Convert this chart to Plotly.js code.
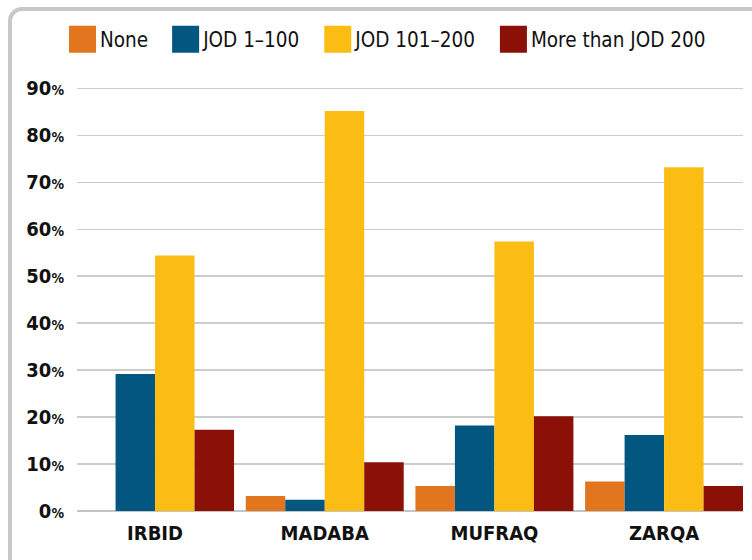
<!DOCTYPE html>
<html>
<head>
<meta charset="utf-8">
<script src="https://cdn.plot.ly/plotly-3.0.1.min.js"></script>
<style>
  html, body { margin: 0; padding: 0; background: #ffffff; overflow: hidden; }
  #frame { position: absolute; left: 8px; top: 7px; width: 900px; height: 700px;
           border: 4px solid #c8c8c8; border-top-left-radius: 14px; box-sizing: border-box; }
  #chart { position: absolute; left: 0; top: 0; width: 752px; height: 560px; }
</style>
</head>
<body>
<div id="frame"></div>
<div id="chart"></div>
<script>
// ---- data ----
const categories = ['IRBID', 'MADABA', 'MUFRAQ', 'ZARQA'];
const seriesNames = ['None', 'JOD 1\u2013100', 'JOD 101\u2013200', 'More than JOD 200'];
const noneValues = [0, 3.2, 5.3, 6.3];
const jod1to100Values = [29.2, 2.4, 18.2, 16.2];
const jod101to200Values = [54.4, 85.2, 57.4, 73.2];
const over200Values = [17.3, 10.4, 20.2, 5.3];
const yTickValues = [0, 10, 20, 30, 40, 50, 60, 70, 80, 90];
const yTickLabels = yTickValues.map(v => v + '<span style="font-size:14px">%</span>');

// ---- styling ----
const colors = ['#E2761F', '#02567F', '#FBBD13', '#8A1008'];
const FONT = 'DejaVu Sans Condensed, DejaVu Sans, sans-serif';
const allSeries = [noneValues, jod1to100Values, jod101to200Values, over200Values];

const traces = allSeries.map((vals, i) => ({
  type: 'bar',
  name: seriesNames[i],
  x: categories,
  y: vals,
  marker: { color: colors[i], line: { width: 0 } },
  hoverinfo: 'none'
}));

const layout = {
  width: 752,
  height: 560,
  margin: { l: 77, r: 9, t: 79, b: 49, pad: 0 },
  paper_bgcolor: 'rgba(0,0,0,0)',
  plot_bgcolor: 'rgba(0,0,0,0)',
  barmode: 'group',
  bargap: 0.069,
  bargroupgap: 0,
  font: { family: FONT, color: '#111111' },
  showlegend: true,
  legend: {
    orientation: 'h',
    xref: 'container', yref: 'container',
    x: 0.0665, xanchor: 'left',
    y: 1 - 39.5 / 560, yanchor: 'middle',
    itemwidth: 40,
    font: { family: FONT, size: 20.5, color: '#111111' },
    bgcolor: 'rgba(0,0,0,0)',
    traceorder: 'normal'
  },
  xaxis: {
    type: 'category',
    range: [-0.46, 3.465],
    showgrid: false,
    showline: false,
    zeroline: false,
    ticks: '',
    ticklabelstandoff: 8,
    tickfont: { family: FONT, size: 20, weight: 'bold', color: '#111111' },
    fixedrange: true
  },
  yaxis: {
    range: [0, 92],
    tickmode: 'array',
    tickvals: yTickValues,
    ticktext: yTickLabels,
    showgrid: true,
    gridcolor: '#cccccc',
    gridwidth: 1.5,
    zeroline: true,
    zerolinecolor: '#c4c4c4',
    zerolinewidth: 2,
    showline: false,
    ticks: '',
    ticklabelstandoff: 12,
    tickfont: { family: FONT, size: 20, weight: 'bold', color: '#111111' },
    fixedrange: true
  }
};

Plotly.newPlot('chart', traces, layout, { staticPlot: true, displayModeBar: false }).then(gd => {
  // enlarge the legend swatches to the reference's big squares
  gd.querySelectorAll('.legendpoints path').forEach(p => {
    p.setAttribute('d', 'M21,13.5H-6V-13.5H21Z');
  });
});
</script>
</body>
</html>
